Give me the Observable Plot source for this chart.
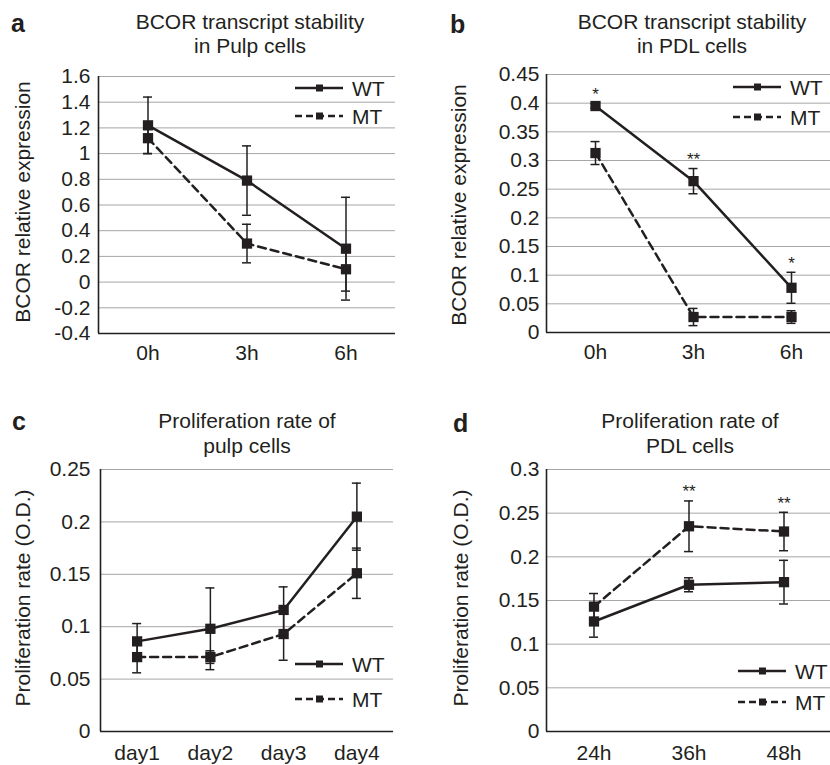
<!DOCTYPE html>
<html><head><meta charset="utf-8">
<script src="https://cdn.jsdelivr.net/npm/d3@7"></script>
<script src="https://cdn.jsdelivr.net/npm/@observablehq/plot@0.6"></script>
<style>
body{margin:0;background:#fff;}
#root{position:relative;width:830px;height:765px;overflow:hidden;font-family:"Liberation Sans",Arial,sans-serif;color:#231f20;}
#root > svg{position:absolute;}
#overlay{position:absolute;left:0;top:0;pointer-events:none;}
</style></head><body><div id="root"></div>
<script>
// ---- data ----
const timesAB = ["0h", "3h", "6h"];
const wtA = [1.22, 0.79, 0.26];
const wtAerr = [0.22, 0.27, 0.40];
const mtA = [1.12, 0.30, 0.10];
const mtAerr = [0.12, 0.15, 0.17];
const yTicksA = [-0.4, -0.2, 0, 0.2, 0.4, 0.6, 0.8, 1, 1.2, 1.4, 1.6];

const wtB = [0.395, 0.264, 0.078];
const wtBerr = [0.004, 0.022, 0.027];
const mtB = [0.313, 0.027, 0.027];
const mtBerr = [0.020, 0.015, 0.011];
const starsB = ["*", "**", "*"];
const yTicksB = [0, 0.05, 0.1, 0.15, 0.2, 0.25, 0.3, 0.35, 0.4, 0.45];

const daysC = ["day1", "day2", "day3", "day4"];
const wtC = [0.086, 0.098, 0.116, 0.205];
const wtCerr = [0.017, 0.039, 0.022, 0.032];
const mtC = [0.071, 0.071, 0.093, 0.151];
const mtCerr = [0.015, 0.006, 0.025, 0.024];
const yTicksC = [0, 0.05, 0.1, 0.15, 0.2, 0.25];

const hoursD = ["24h", "36h", "48h"];
const wtD = [0.126, 0.168, 0.171];
const wtDerr = [0.018, 0.008, 0.025];
const mtD = [0.143, 0.235, 0.229];
const mtDerr = [0.015, 0.029, 0.022];
const starsD = ["", "**", "**"];
const yTicksD = [0, 0.05, 0.1, 0.15, 0.2, 0.25, 0.3];

const ink = "#231f20";
const grid = "#a6a6a6";
const root = document.getElementById("root");

function panel(cfg) {
  const n = cfg.cats.length;
  const series = (vals, errs, s) => vals.map((v, i) => ({i, s, v, e: errs[i]}));
  const wtRows = series(cfg.wt, cfg.wtErr, "WT");
  const mtRows = series(cfg.mt, cfg.mtErr, "MT");
  const all = wtRows.concat(mtRows);
  const plotW = cfg.xRange ? cfg.xRange[1] - cfg.xRange[0] : cfg.width - cfg.ml - cfg.mr;
  const cap = 4.5 / (plotW / n);
  const starRows = (cfg.stars || []).map((t, i) => {
    const src = cfg.starOn === "WT" ? wtRows : mtRows;
    return {i, t, y: src[i].v + src[i].e};
  }).filter(d => d.t);
  const yMin = cfg.yTicks[0];
  const svg = Plot.plot({
    width: cfg.width, height: cfg.height,
    marginTop: cfg.mt_, marginBottom: cfg.mb, marginLeft: cfg.ml, marginRight: cfg.mr,
    style: {fontFamily: "'Liberation Sans', Arial, sans-serif", fontSize: "21px", color: ink, background: "transparent", overflow: "visible"},
    x: {domain: [-0.5, n - 0.5], range: cfg.xRange, ticks: d3.range(n), tickFormat: i => cfg.cats[i], tickSize: 0, tickPadding: cfg.xPad, label: null},
    y: {domain: [yMin, cfg.yTicks[cfg.yTicks.length - 1]], ticks: cfg.yTicks, tickFormat: d => String(+d.toFixed(3)), tickSize: 0, tickPadding: cfg.yPad, label: null},
    marks: [
      Plot.ruleY(cfg.yTicks.slice(1), {stroke: grid, strokeWidth: 1}),
      Plot.ruleY([yMin], {stroke: ink, strokeWidth: 1.6}),
      Plot.ruleX([-0.5], {stroke: ink, strokeWidth: 1.6}),
      Plot.ruleX(all, {x: "i", y1: d => d.v - d.e, y2: d => d.v + d.e, stroke: ink, strokeWidth: 1.5}),
      Plot.ruleY(all, {y: d => d.v + d.e, x1: d => d.i - cap, x2: d => d.i + cap, stroke: ink, strokeWidth: 1.5}),
      Plot.ruleY(all, {y: d => d.v - d.e, x1: d => d.i - cap, x2: d => d.i + cap, stroke: ink, strokeWidth: 1.5}),
      Plot.line(wtRows, {x: "i", y: "v", stroke: ink, strokeWidth: 2.5}),
      Plot.line(mtRows, {x: "i", y: "v", stroke: ink, strokeWidth: 2.5, strokeDasharray: "8,5"}),
      Plot.dot(all, {x: "i", y: "v", symbol: "square", r: 5.8, fill: ink, stroke: "none"}),
      Plot.text(starRows, {x: "i", y: "y", text: "t", dy: -9, fontSize: 17, fill: ink})
    ]
  });
  svg.style.left = cfg.left + "px";
  svg.style.top = cfg.top + "px";
  root.appendChild(svg);
}

panel({cats: timesAB, wt: wtA, wtErr: wtAerr, mt: mtA, mtErr: mtAerr, yTicks: yTicksA,
  left: 0, top: 60, width: 415, height: 310, mt_: 16, mb: 37, ml: 98, mr: 20, xPad: 12, yPad: 8});
panel({cats: timesAB, wt: wtB, wtErr: wtBerr, mt: mtB, mtErr: mtBerr, yTicks: yTicksB, stars: starsB, starOn: "WT",
  left: 415, top: 60, width: 415, height: 310, mt_: 14, mb: 38, ml: 131, mr: 0, xRange: [131, 425], xPad: 12, yPad: 7});
panel({cats: daysC, wt: wtC, wtErr: wtCerr, mt: mtC, mtErr: mtCerr, yTicks: yTicksC,
  left: 0, top: 455, width: 415, height: 310, mt_: 14, mb: 34, ml: 100, mr: 22, xPad: 14, yPad: 10});
panel({cats: hoursD, wt: wtD, wtErr: wtDerr, mt: mtD, mtErr: mtDerr, yTicks: yTicksD, stars: starsD, starOn: "MT",
  left: 415, top: 455, width: 415, height: 310, mt_: 14, mb: 34, ml: 131, mr: 0, xRange: [131, 416], xPad: 14, yPad: 7});

// ---- overlay text: titles, panel letters, axis titles, legends ----
const ns = "http://www.w3.org/2000/svg";
const ov = document.createElementNS(ns, "svg");
ov.setAttribute("id", "overlay");
ov.setAttribute("width", 830); ov.setAttribute("height", 765);
ov.style.fontFamily = "'Liberation Sans', Arial, sans-serif";
root.appendChild(ov);
function txt(x, y, s, opts = {}) {
  const t = document.createElementNS(ns, "text");
  t.setAttribute("x", x); t.setAttribute("y", y);
  t.setAttribute("fill", ink);
  t.setAttribute("font-size", opts.size || 21);
  t.setAttribute("text-anchor", opts.anchor || "middle");
  t.setAttribute("dominant-baseline", opts.baseline || "central");
  if (opts.weight) t.setAttribute("font-weight", opts.weight);
  if (opts.rotate) t.setAttribute("transform", `rotate(-90 ${x} ${y})`);
  t.textContent = s;
  ov.appendChild(t);
}
function el(name, attrs) {
  const e = document.createElementNS(ns, name);
  for (const k in attrs) e.setAttribute(k, attrs[k]);
  ov.appendChild(e);
}
// titles
txt(250, 21, "BCOR transcript stability"); txt(250, 45, "in Pulp cells");
txt(692, 21, "BCOR transcript stability"); txt(692, 45, "in PDL cells");
txt(247, 420, "Proliferation rate of"); txt(247, 445, "pulp cells");
txt(690, 420, "Proliferation rate of"); txt(690, 445, "PDL cells");
// letters
txt(11, 32, "a", {size: 25, weight: "bold", anchor: "start", baseline: "alphabetic"});
txt(450, 33, "b", {size: 25, weight: "bold", anchor: "start", baseline: "alphabetic"});
txt(12, 430, "c", {size: 25, weight: "bold", anchor: "start", baseline: "alphabetic"});
txt(453, 432, "d", {size: 25, weight: "bold", anchor: "start", baseline: "alphabetic"});
// y axis titles
txt(22, 202, "BCOR relative expression", {rotate: true});
txt(458, 205, "BCOR relative expression", {rotate: true});
txt(22, 598, "Proliferation rate (O.D.)", {rotate: true});
txt(460, 598, "Proliferation rate (O.D.)", {rotate: true});
// legends
function legend(x, yWT, yMT) {
  [["WT", yWT, null], ["MT", yMT, "7,4"]].forEach(([lab, y, dash]) => {
    const a = {x1: x, x2: x + 48, y1: y, y2: y, stroke: ink, "stroke-width": 2.5};
    if (dash) a["stroke-dasharray"] = dash;
    el("line", a);
    el("rect", {x: x + 21, y: y - 3.5, width: 7, height: 7, fill: ink});
    txt(x + 57, y, lab, {anchor: "start"});
  });
}
legend(295, 88, 116);
legend(733, 87, 117);
legend(295, 664, 699);
legend(738, 671, 702);
</script></body></html>
